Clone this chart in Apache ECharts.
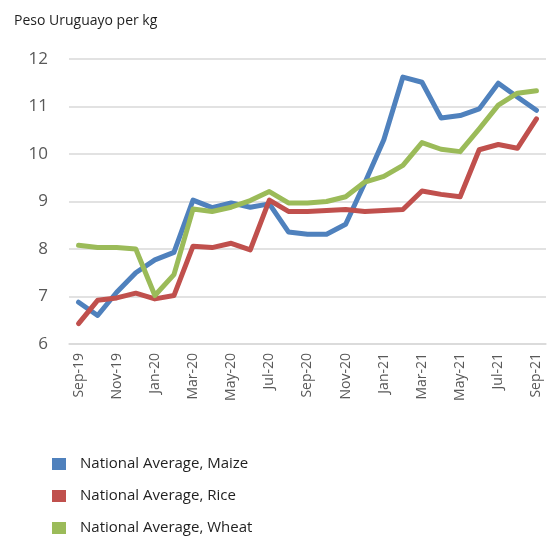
<!DOCTYPE html>
<html>
<head>
<meta charset="utf-8">
<script src="https://cdn.jsdelivr.net/npm/echarts@6/dist/echarts.min.js"></script>
<style>
  html, body { margin: 0; padding: 0; background: #fff; }
  #chart { width: 547px; height: 536px; }
</style>
</head>
<body>
<div id="chart"></div>
<script>
// months on the x axis
const months = [
  'Sep-19', 'Oct-19', 'Nov-19', 'Dec-19', 'Jan-20', 'Feb-20', 'Mar-20', 'Apr-20',
  'May-20', 'Jun-20', 'Jul-20', 'Aug-20', 'Sep-20', 'Oct-20', 'Nov-20', 'Dec-20',
  'Jan-21', 'Feb-21', 'Mar-21', 'Apr-21', 'May-21', 'Jun-21', 'Jul-21', 'Aug-21', 'Sep-21'
];

// Peso Uruguayo per kg
const maize = [6.88, 6.6, 7.09, 7.5, 7.77, 7.93, 9.03, 8.87, 8.97, 8.88, 8.95, 8.36,
  8.31, 8.31, 8.52, 9.39, 10.3, 11.62, 11.51, 10.76, 10.81, 10.95, 11.49, 11.2, 10.92];
const rice = [6.43, 6.92, 6.97, 7.07, 6.95, 7.02, 8.06, 8.03, 8.12, 7.98, 9.03, 8.79,
  8.79, 8.81, 8.83, 8.79, 8.81, 8.83, 9.22, 9.15, 9.1, 10.09, 10.2, 10.12, 10.74];
const wheat = [8.08, 8.03, 8.03, 8.0, 7.02, 7.46, 8.84, 8.79, 8.88, 9.02, 9.21, 8.97,
  8.97, 9.0, 9.1, 9.41, 9.53, 9.76, 10.24, 10.1, 10.05, 10.53, 11.03, 11.28, 11.33];

const yTicks = { min: 6, max: 12, step: 1 };

const seriesNames = ['National Average, Maize', 'National Average, Rice', 'National Average, Wheat'];
const colors = ['#4F81BD', '#C0504D', '#9BBB59'];

const chart = echarts.init(document.getElementById('chart'));

const lineSeries = [maize, rice, wheat].map((vals, i) => ({
  name: seriesNames[i],
  type: 'line',
  data: vals,
  showSymbol: false,
  symbol: 'none',
  lineStyle: { width: 5, color: colors[i], join: 'round', cap: 'round' },
  itemStyle: { color: colors[i] }
}));

const option = {
  animation: false,
  textStyle: { fontFamily: '"Open Sans", "Noto Sans", sans-serif' },
  title: {
    text: 'Peso Uruguayo per kg',
    left: 9,
    top: 9,
    textStyle: { fontSize: 14, fontWeight: 'normal', color: '#1f1f1f' }
  },
  legend: {
    orient: 'vertical',
    left: 47,
    top: 451,
    height: 84,
    icon: 'rect',
    itemWidth: 14,
    itemHeight: 12,
    itemGap: 16,
    textStyle: { fontSize: 15, color: '#1f1f1f', lineHeight: 16, padding: [0, 0, 0, 9] },
    data: seriesNames
  },
  grid: {
    left: 69,
    top: 59,
    width: 477,
    height: 285
  },
  xAxis: {
    type: 'category',
    data: months,
    boundaryGap: true,
    axisLine: { lineStyle: { color: '#d9d9d9', width: 1.5 } },
    axisTick: { interval: 1, length: 6, lineStyle: { color: '#d9d9d9', width: 1.5 } },
    axisLabel: {
      interval: 1,
      rotate: 90,
      margin: 9,
      fontSize: 14,
      color: '#595959'
    }
  },
  yAxis: {
    type: 'value',
    min: yTicks.min,
    max: yTicks.max,
    interval: yTicks.step,
    axisLine: { show: false },
    axisTick: { show: false },
    axisLabel: { fontSize: 17, color: '#595959', margin: 21 },
    splitLine: { lineStyle: { color: '#d9d9d9', width: 1.5 } }
  },
  series: lineSeries
};

chart.setOption(option);
</script>
</body>
</html>
